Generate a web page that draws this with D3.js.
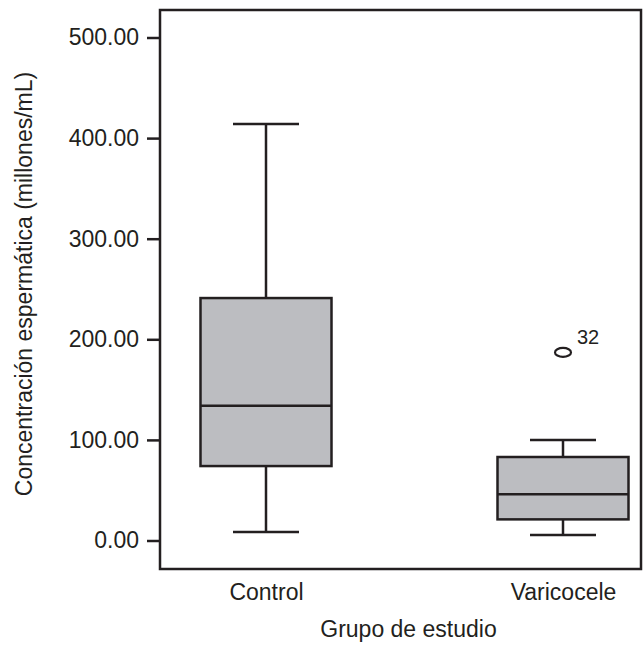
<!DOCTYPE html>
<html>
<head>
<meta charset="utf-8">
<script src="https://cdn.jsdelivr.net/npm/d3@7"></script>
<style>
  html, body { margin: 0; padding: 0; background: #fff; }
  svg text { font-family: "Liberation Sans", Arial, sans-serif; fill: #231f20; }
</style>
</head>
<body>
<svg id="chart" width="644" height="648"></svg>
<script>
// ---- data ----
const categories = ["Control", "Varicocele"];
const whiskerLow  = [8.5, 5.5];
const q1          = [74, 21];
const median      = [134, 46];
const q3          = [241, 83];
const whiskerHigh = [414, 100];
const outlierGroup = ["Varicocele"];
const outlierValue = [187];
const outlierLabel = ["32"];
const yTicks = [0, 100, 200, 300, 400, 500];
const yTitle = "Concentración espermática (millones/mL)";
const xTitle = "Grupo de estudio";

// ---- layout ----
const frame = { left: 160, right: 641, top: 10, bottom: 569 };
const ink = "#231f20";
const fill = "#bcbdc1";

const svg = d3.select("#chart");

const y = d3.scaleLinear().domain([0, 500]).range([540.5, 37.5]);
const x = d3.scalePoint().domain(categories).range([266, 563]);

const boxW = 131, capW = 66;

// frame
svg.append("rect")
  .attr("x", frame.left).attr("y", frame.top)
  .attr("width", frame.right - frame.left).attr("height", frame.bottom - frame.top)
  .attr("fill", "none").attr("stroke", ink).attr("stroke-width", 2.5);

// y axis
const yAxis = d3.axisLeft(y).tickValues(yTicks).tickSize(13).tickPadding(8)
  .tickFormat(d3.format(".2f"));
const gy = svg.append("g").attr("transform", `translate(${frame.left},0)`).call(yAxis);
gy.select(".domain").remove();
gy.selectAll(".tick line").attr("stroke", ink).attr("stroke-width", 2.5);
gy.selectAll(".tick text").attr("font-size", 23).attr("fill", ink)
  .style("font-family", "'Liberation Sans', Arial, sans-serif");

// x axis labels (no ticks)
const xAxis = d3.axisBottom(x).tickSize(0).tickPadding(0);
const gx = svg.append("g").attr("transform", `translate(0,${frame.bottom})`).call(xAxis);
gx.select(".domain").remove();
gx.selectAll(".tick text").attr("font-size", 23).attr("fill", ink)
  .attr("dy", null).attr("y", 31)
  .style("font-family", "'Liberation Sans', Arial, sans-serif");

// titles
svg.append("text")
  .attr("x", (frame.left + frame.right) / 2 + 8).attr("y", 637)
  .attr("text-anchor", "middle").attr("font-size", 23).text(xTitle);
svg.append("text")
  .attr("transform", `translate(32,${284}) rotate(-90)`)
  .attr("text-anchor", "middle").attr("font-size", 23).text(yTitle);

// boxes
const data = categories.map((c, i) => ({
  c, lo: whiskerLow[i], q1: q1[i], med: median[i], q3: q3[i], hi: whiskerHigh[i]
}));

const g = svg.append("g");
const b = g.selectAll("g.box").data(data).join("g").attr("class", "box");

// whisker stems
b.append("line").attr("x1", d => x(d.c)).attr("x2", d => x(d.c))
  .attr("y1", d => y(d.hi)).attr("y2", d => y(d.q3))
  .attr("stroke", ink).attr("stroke-width", 2.5);
b.append("line").attr("x1", d => x(d.c)).attr("x2", d => x(d.c))
  .attr("y1", d => y(d.q1)).attr("y2", d => y(d.lo))
  .attr("stroke", ink).attr("stroke-width", 2.5);
// caps
b.append("line").attr("x1", d => x(d.c) - capW / 2).attr("x2", d => x(d.c) + capW / 2)
  .attr("y1", d => y(d.hi)).attr("y2", d => y(d.hi))
  .attr("stroke", ink).attr("stroke-width", 2.5);
b.append("line").attr("x1", d => x(d.c) - capW / 2).attr("x2", d => x(d.c) + capW / 2)
  .attr("y1", d => y(d.lo)).attr("y2", d => y(d.lo))
  .attr("stroke", ink).attr("stroke-width", 2.5);
// box
b.append("rect").attr("x", d => x(d.c) - boxW / 2).attr("width", boxW)
  .attr("y", d => y(d.q3)).attr("height", d => y(d.q1) - y(d.q3))
  .attr("fill", fill).attr("stroke", ink).attr("stroke-width", 2.5);
// median
b.append("line").attr("x1", d => x(d.c) - boxW / 2).attr("x2", d => x(d.c) + boxW / 2)
  .attr("y1", d => y(d.med)).attr("y2", d => y(d.med))
  .attr("stroke", ink).attr("stroke-width", 2.5);

// outliers
const outliers = outlierGroup.map((gname, i) => ({ g: gname, v: outlierValue[i], lab: outlierLabel[i] }));
const o = g.selectAll("g.out").data(outliers).join("g").attr("class", "out");
o.append("ellipse").attr("cx", d => x(d.g)).attr("cy", d => y(d.v))
  .attr("rx", 8).attr("ry", 4.5)
  .attr("fill", "none").attr("stroke", ink).attr("stroke-width", 2.2);
o.append("text").attr("x", d => x(d.g) + 14).attr("y", d => y(d.v) - 8)
  .attr("font-size", 20).text(d => d.lab);
</script>
</body>
</html>
